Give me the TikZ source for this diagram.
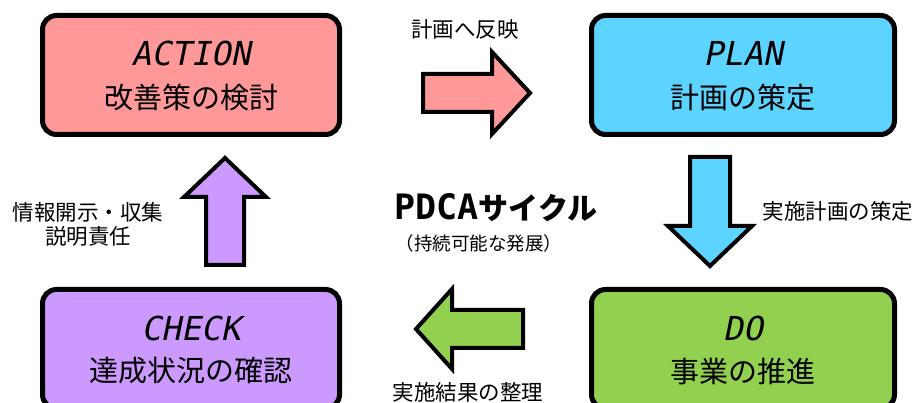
\documentclass[tikz,border=0pt]{standalone}
\usepackage{fontspec}
\setmainfont{Noto Sans CJK JP}
\newfontfamily\latit{DejaVu Sans Mono}[FakeSlant=0.2]
\newfontfamily\latmono{DejaVu Sans Mono}
\definecolor{actpink}{HTML}{FF9999}
\definecolor{planblue}{HTML}{5DD3FF}
\definecolor{dogreen}{HTML}{92D050}
\definecolor{chkpurple}{HTML}{CC99FF}
\tikzset{
  phasebox/.style={draw=black, line width=5pt, rounded corners=14pt},
  blockarrow/.style={draw=black, line width=4pt, line join=miter},
  titletext/.style={font=\latit\fontsize{33}{36}\selectfont, inner sep=0pt},
  jptext/.style={font=\fontsize{29}{33}\selectfont, inner sep=0pt},
  labeltext/.style={font=\fontsize{21.5}{25}\selectfont, inner sep=0pt, align=center},
}
\begin{document}
\begin{tikzpicture}[x=1pt,y=-1pt]
\useasboundingbox (0,0) rectangle (919,403);
\clip (0,0) rectangle (919,403);
% boxes
\draw[phasebox, fill=actpink] (42.5,15.5) rectangle (339.5,134.5);
\draw[phasebox, fill=planblue] (591.5,15.5) rectangle (894.5,134.5);
\draw[phasebox, fill=chkpurple] (42.5,289.5) rectangle (339.5,408.5);
\draw[phasebox, fill=dogreen] (591.5,289.5) rectangle (894.5,408.5);
\node[titletext] (actT) at (191,53) {ACTION};
\node[jptext] (actJ) at (191,97) {改善策の検討};
\node[titletext] (plnT) at (743,53) {PLAN};
\node[jptext] (plnJ) at (743,97) {計画の策定};
\node[titletext] (chkT) at (191,328) {CHECK};
\node[jptext] (chkJ) at (191,371) {達成状況の確認};
\node[titletext] (doT) at (743,328) {DO};
\node[jptext] (doJ) at (743,371) {事業の推進};
% arrows
\coordinate (ra) at (423,93);
\draw[blockarrow, fill=actpink] (ra) ++(0,-19) -- ++(69,0) -- ++(0,-22) -- (530,93) -- (492,134) -- (492,112) -- (423,112) -- cycle;
\coordinate (da) at (710,157);
\draw[blockarrow, fill=planblue] (da) ++(-20,0) -- (730,157) -- (730,226) -- (752,226) -- (710,266) -- (668,226) -- (690,226) -- cycle;
\coordinate (la) at (523,329);
\draw[blockarrow, fill=dogreen] (la) ++(0,-19) -- (452,310) -- (452,289) -- (416,329) -- (452,369) -- (452,348) -- (523,348) -- cycle;
\coordinate (ua) at (225,158);
\draw[blockarrow, fill=chkpurple] (ua) -- (266,197) -- (244,197) -- (244,265) -- (206,265) -- (206,197) -- (184,197) -- cycle;
% labels
\node[labeltext] (l1) at (465,29) {計画へ反映};
\node[labeltext] (l2) at (838,211) {実施計画の策定};
\node[labeltext] (l3) at (468,392) {実施結果の整理};
\node[labeltext] (l4) at (88,224) {情報開示・収集\\[-1pt]説明責任};
\node[inner sep=0pt] (title) at (496,208) {{\latmono\bfseries\fontsize{35}{38}\selectfont PDCA}{\bfseries\fontsize{30}{34}\selectfont サイクル}};
\node[inner sep=0pt, font=\fontsize{18.5}{22}\selectfont] (sub) at (479,243) {（持続可能な発展）};
\end{tikzpicture}
\end{document}
